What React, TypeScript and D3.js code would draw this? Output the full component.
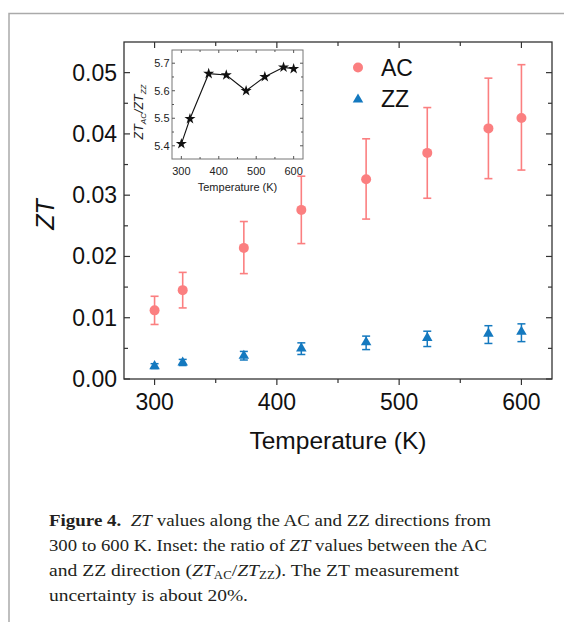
import * as d3 from "d3";

// ZT vs temperature, AC and ZZ directions
const temps = [300, 323, 373, 420, 473, 523, 573, 600];
const acZT = [0.0112, 0.0145, 0.0214, 0.0276, 0.0326, 0.0369, 0.0409, 0.0426];
const acLow = [0.0089, 0.0116, 0.0172, 0.0221, 0.0261, 0.0295, 0.0327, 0.0341];
const acHigh = [0.0135, 0.0174, 0.0257, 0.0331, 0.0392, 0.0443, 0.0491, 0.0513];
const zzZT = [0.0021, 0.0027, 0.0038, 0.005, 0.006, 0.0067, 0.0074, 0.0077];
const zzLow = [0.0017, 0.0022, 0.0031, 0.004, 0.0048, 0.0053, 0.0058, 0.0061];
const zzHigh = [0.0025, 0.0032, 0.0045, 0.0059, 0.007, 0.0078, 0.0087, 0.009];
const ratio = [5.407, 5.498, 5.662, 5.657, 5.6, 5.651, 5.685, 5.68];

const xTicks = [300, 400, 500, 600];
const xMinor = [350, 450, 550];
const yTicks = [0, 0.01, 0.02, 0.03, 0.04, 0.05];
const yMinor = [0.005, 0.015, 0.025, 0.035, 0.045];
const insetYTicks = [5.4, 5.5, 5.6, 5.7];
const insetYMinor = [5.45, 5.55, 5.65];

const AC_COLOR = "#fb7f80";
const ZZ_COLOR = "#1479bf";
const AXIS = "#333";
const SANS = "Arial, 'Liberation Sans', sans-serif";
const SERIF = "'Liberation Serif', 'Times New Roman', serif";

export default function App() {
  const W = 564;
  const H = 622;
  const m = { left: 124, right: 552, top: 42, bottom: 379 };

  const x = d3.scaleLinear().domain([275, 625]).range([m.left, m.right]);
  const y = d3.scaleLinear().domain([0, 0.055]).range([m.bottom, m.top]);

  // inset
  const ins = { left: 172, right: 303, top: 50, bottom: 159 };
  const ix = d3.scaleLinear().domain([275, 625]).range([ins.left, ins.right]);
  const iy = d3.scaleLinear().domain([5.352, 5.748]).range([ins.bottom, ins.top]);

  const tri = d3.symbol(d3.symbolTriangle, 48)()!;
  const star = d3.symbol(d3.symbolStar, 38)()!;
  const ratioLine = d3
    .line<number>()
    .x((_, i) => ix(temps[i]))
    .y((d) => iy(d))(ratio)!;

  const cap = 4;

  return (
    <div style={{ position: "absolute", left: 0, top: 0 }}>
      <svg width={W} height={H} style={{ display: "block", background: "#fff" }}>
        {/* page frame */}
        <path d={`M9,${H} V13.5 H${W}`} fill="none" stroke="#aaa" strokeWidth={1.5} />

        {/* main box */}
        <rect
          x={m.left}
          y={m.top}
          width={m.right - m.left}
          height={m.bottom - m.top}
          fill="none"
          stroke={AXIS}
          strokeWidth={1.3}
        />

        {/* y ticks: left and right, inward */}
        {yTicks.map((t) => (
          <g key={"y" + t}>
            <line x1={m.left} x2={m.left + 6} y1={y(t)} y2={y(t)} stroke={AXIS} strokeWidth={1.2} />
            <line x1={m.right} x2={m.right - 6} y1={y(t)} y2={y(t)} stroke={AXIS} strokeWidth={1.2} />
            <text
              x={m.left - 7}
              y={y(t) + 8}
              textAnchor="end"
              fontFamily={SANS}
              fontSize={23}
              fill="#111"
            >
              {t.toFixed(2)}
            </text>
          </g>
        ))}
        {yMinor.map((t) => (
          <g key={"ym" + t}>
            <line x1={m.left} x2={m.left + 4} y1={y(t)} y2={y(t)} stroke={AXIS} strokeWidth={1.2} />
            <line x1={m.right} x2={m.right - 4} y1={y(t)} y2={y(t)} stroke={AXIS} strokeWidth={1.2} />
          </g>
        ))}

        {/* x ticks: bottom outward, top inward */}
        {xTicks.map((t) => (
          <g key={"x" + t}>
            <line x1={x(t)} x2={x(t)} y1={m.bottom} y2={m.bottom + 6} stroke={AXIS} strokeWidth={1.2} />
            <line x1={x(t)} x2={x(t)} y1={m.top} y2={m.top + 6} stroke={AXIS} strokeWidth={1.2} />
            <text
              x={x(t)}
              y={m.bottom + 31}
              textAnchor="middle"
              fontFamily={SANS}
              fontSize={23}
              fill="#111"
            >
              {t}
            </text>
          </g>
        ))}
        {xMinor.map((t) => (
          <g key={"xm" + t}>
            <line x1={x(t)} x2={x(t)} y1={m.bottom} y2={m.bottom + 4} stroke={AXIS} strokeWidth={1.2} />
            <line x1={x(t)} x2={x(t)} y1={m.top} y2={m.top + 4} stroke={AXIS} strokeWidth={1.2} />
          </g>
        ))}

        {/* axis titles */}
        <text
          x={(m.left + m.right) / 2}
          y={449}
          textAnchor="middle"
          fontFamily={SANS}
          fontSize={24.5}
          fill="#111"
        >
          Temperature (K)
        </text>
        <text
          transform={`translate(54,${(m.top + m.bottom) / 2 + 4}) rotate(-90)`}
          textAnchor="middle"
          fontFamily={SANS}
          fontSize={25}
          fontStyle="italic"
          fill="#111"
        >
          ZT
        </text>

        {/* AC error bars and circles */}
        {temps.map((t, i) => (
          <g key={"ac" + t} stroke={AC_COLOR} strokeWidth={1.6}>
            <line x1={x(t)} x2={x(t)} y1={y(acLow[i])} y2={y(acHigh[i])} />
            <line x1={x(t) - cap} x2={x(t) + cap} y1={y(acLow[i])} y2={y(acLow[i])} />
            <line x1={x(t) - cap} x2={x(t) + cap} y1={y(acHigh[i])} y2={y(acHigh[i])} />
            <circle cx={x(t)} cy={y(acZT[i])} r={5} fill={AC_COLOR} stroke="none" />
          </g>
        ))}

        {/* ZZ error bars and triangles */}
        {temps.map((t, i) => (
          <g key={"zz" + t} stroke={ZZ_COLOR} strokeWidth={1.5}>
            <line x1={x(t)} x2={x(t)} y1={y(zzLow[i])} y2={y(zzHigh[i])} />
            <line x1={x(t) - cap} x2={x(t) + cap} y1={y(zzLow[i])} y2={y(zzLow[i])} />
            <line x1={x(t) - cap} x2={x(t) + cap} y1={y(zzHigh[i])} y2={y(zzHigh[i])} />
            <path d={tri} transform={`translate(${x(t)},${y(zzZT[i])})`} fill={ZZ_COLOR} stroke="none" />
          </g>
        ))}

        {/* legend */}
        <circle cx={358} cy={67.5} r={5} fill={AC_COLOR} />
        <text x={381} y={75.5} fontFamily={SANS} fontSize={23} fill="#111">
          AC
        </text>
        <path d={tri} transform="translate(358,99.5)" fill={ZZ_COLOR} />
        <text x={381} y={107} fontFamily={SANS} fontSize={23} fill="#111">
          ZZ
        </text>

        {/* inset */}
        <rect
          x={ins.left}
          y={ins.top}
          width={ins.right - ins.left}
          height={ins.bottom - ins.top}
          fill="#fff"
          stroke="#777"
          strokeWidth={1}
        />
        {insetYTicks.map((t) => (
          <g key={"iy" + t}>
            <line x1={ins.left} x2={ins.left + 3} y1={iy(t)} y2={iy(t)} stroke="#555" />
            <line x1={ins.right} x2={ins.right - 3} y1={iy(t)} y2={iy(t)} stroke="#555" />
            <text
              x={ins.left - 2.5}
              y={iy(t) + 4}
              textAnchor="end"
              fontFamily={SANS}
              fontSize={11}
              fill="#222"
            >
              {t.toFixed(1)}
            </text>
          </g>
        ))}
        {insetYMinor.map((t) => (
          <g key={"iym" + t}>
            <line x1={ins.left} x2={ins.left + 2} y1={iy(t)} y2={iy(t)} stroke="#555" />
            <line x1={ins.right} x2={ins.right - 2} y1={iy(t)} y2={iy(t)} stroke="#555" />
          </g>
        ))}
        {xTicks.map((t) => (
          <g key={"ix" + t}>
            <line x1={ix(t)} x2={ix(t)} y1={ins.bottom} y2={ins.bottom - 3} stroke="#555" />
            <line x1={ix(t)} x2={ix(t)} y1={ins.top} y2={ins.top + 3} stroke="#555" />
            <text
              x={ix(t)}
              y={ins.bottom + 16}
              textAnchor="middle"
              fontFamily={SANS}
              fontSize={11}
              fill="#222"
            >
              {t}
            </text>
          </g>
        ))}
        {xMinor.map((t) => (
          <g key={"ixm" + t}>
            <line x1={ix(t)} x2={ix(t)} y1={ins.bottom} y2={ins.bottom - 2} stroke="#555" />
            <line x1={ix(t)} x2={ix(t)} y1={ins.top} y2={ins.top + 2} stroke="#555" />
          </g>
        ))}
        <text
          x={(ins.left + ins.right) / 2}
          y={191}
          textAnchor="middle"
          fontFamily={SANS}
          fontSize={11}
          fill="#222"
        >
          Temperature (K)
        </text>
        <text
          transform="translate(143,112) rotate(-90)"
          textAnchor="middle"
          fontFamily={SANS}
          fontSize={12.5}
          fontStyle="italic"
          fill="#222"
        >
          ZT
          <tspan fontSize={8} dy={3}>AC</tspan>
          <tspan dy={-3}>/ZT</tspan>
          <tspan fontSize={8} dy={3}>ZZ</tspan>
        </text>
        <path d={ratioLine} fill="none" stroke="#111" strokeWidth={1.1} />
        {ratio.map((r, i) => (
          <path key={"st" + i} d={star} transform={`translate(${ix(temps[i])},${iy(r)})`} fill="#111" />
        ))}

        {/* caption */}
        <g fontFamily={SERIF} fontSize={17.5} fill="#231f20">
          <text x={49} y={526} textLength={442} lengthAdjust="spacingAndGlyphs">
            <tspan fontWeight="bold">Figure 4.</tspan>
            <tspan>{"\u00a0\u00a0"}</tspan>
            <tspan fontStyle="italic">ZT</tspan>
            <tspan> values along the AC and ZZ directions from</tspan>
          </text>
          <text x={49} y={551} textLength={438} lengthAdjust="spacingAndGlyphs">
            <tspan>300 to 600 K. Inset: the ratio of </tspan>
            <tspan fontStyle="italic">ZT</tspan>
            <tspan> values between the AC</tspan>
          </text>
          <text x={49} y={576} textLength={410} lengthAdjust="spacingAndGlyphs">
            <tspan>and ZZ direction (</tspan>
            <tspan fontStyle="italic">ZT</tspan>
            <tspan fontSize={11.5} dy={3}>AC</tspan>
            <tspan dy={-3}>/</tspan>
            <tspan fontStyle="italic">ZT</tspan>
            <tspan fontSize={11.5} dy={3}>ZZ</tspan>
            <tspan dy={-3}>). The ZT measurement</tspan>
          </text>
          <text x={49} y={601} textLength={199} lengthAdjust="spacingAndGlyphs">
            uncertainty is about 20%.
          </text>
        </g>
      </svg>
    </div>
  );
}
